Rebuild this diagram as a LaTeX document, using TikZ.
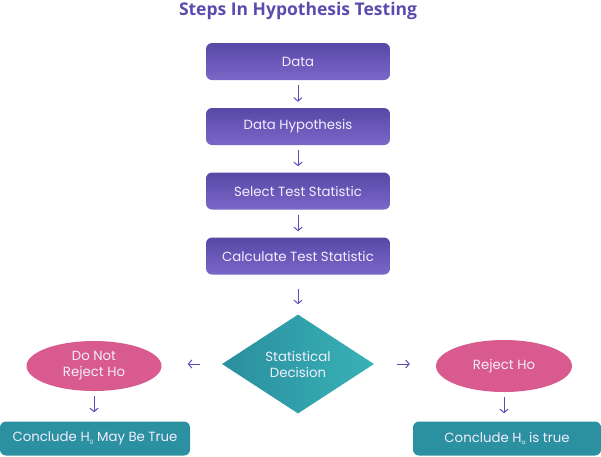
\documentclass[tikz,border=0pt]{standalone}
\usepackage{fontspec}
\setmainfont{Poppins}
\newfontfamily\titlefont{Open Sans}
\usetikzlibrary{arrows.meta,shapes.geometric}
\definecolor{ttl}{HTML}{5A4BAE}
\definecolor{ptop}{HTML}{5848A6}
\definecolor{pbot}{HTML}{7A68C8}
\definecolor{arrc}{HTML}{5B4CB4}
\definecolor{tealA}{HTML}{2A8E9E}
\definecolor{tealB}{HTML}{38B2B6}
\definecolor{pinkc}{HTML}{D95A8E}
\definecolor{txtc}{HTML}{F2EEFF}
\tikzset{
  stepbox/.style={rounded corners=6pt, top color=ptop, bottom color=pbot, draw=none,
    minimum width=184pt, minimum height=37pt, text=txtc, font=\fontsize{13.3}{16}\selectfont},
  concl/.style={rounded corners=6pt, fill=tealA!95!tealB, draw=none,
    minimum height=34pt, text=txtc, font=\fontsize{13.3}{16}\selectfont},
  oval/.style={ellipse, fill=pinkc, draw=none, text=txtc, align=center,
    font=\fontsize{13.3}{16}\selectfont, inner sep=0pt},
  arr/.style={draw=arrc, line width=1pt, -{Straight Barb[length=3.5pt,width=8pt,line width=1pt]}},
}
\newcommand{\subsc}[1]{\raisebox{-0.35ex}{\fontsize{6}{6}\selectfont #1}}
\begin{document}
\begin{tikzpicture}[x=1pt,y=-1pt]
\useasboundingbox (0,0) rectangle (601,456);
\node[text=ttl, font=\titlefont\bfseries\fontsize{17.5}{20}\selectfont] (title) at (298,11) {Steps In Hypothesis Testing};
\node[stepbox] (data) at (298,61.5) {Data};
\node[stepbox] (hyp) at (298,126.5) {Data Hypothesis};
\node[stepbox] (sel) at (298,191) {Select Test Statistic};
\node[stepbox] (calc) at (298,256) {Calculate Test Statistic};
\node[diamond, minimum width=152pt, minimum height=99pt, inner sep=0pt, draw=none,
  left color=tealA, right color=tealB, text=txtc, align=center,
  font=\fontsize{13.3}{16}\selectfont] (dec) at (298,364) {Statistical\\Decision};
\node[oval, minimum width=135pt, minimum height=50pt] (nrej) at (94,366) {Do Not\\Reject Ho};
\node[oval, minimum width=136pt, minimum height=52pt] (rej) at (504,366) {Reject Ho};
\node[concl, minimum width=190pt] (c1) at (95,438.5) {Conclude H\subsc{0} May Be True};
\node[concl, minimum width=188pt] (c2) at (507,438.5) {Conclude H\subsc{a} is true};
\draw[arr, shorten <=5pt, shorten >=6pt] (data) -- (hyp);
\draw[arr, shorten <=5pt, shorten >=6pt] (hyp) -- (sel);
\draw[arr, shorten <=5pt, shorten >=6pt] (sel) -- (calc);
\draw[arr, shorten <=14pt, shorten >=10pt] (calc) -- (dec);
\draw[arr, shorten <=22pt, shorten >=26pt] (dec.west) -- (nrej.east |- dec.west);
\draw[arr, shorten <=23pt, shorten >=26pt] (dec.east) -- (rej.west |- dec.east);
\draw[arr, shorten <=5pt, shorten >=9pt] (nrej) -- (nrej |- c1.north);
\draw[arr, shorten <=5pt, shorten >=8pt] (rej) -- (rej |- c2.north);
\end{tikzpicture}
\end{document}
